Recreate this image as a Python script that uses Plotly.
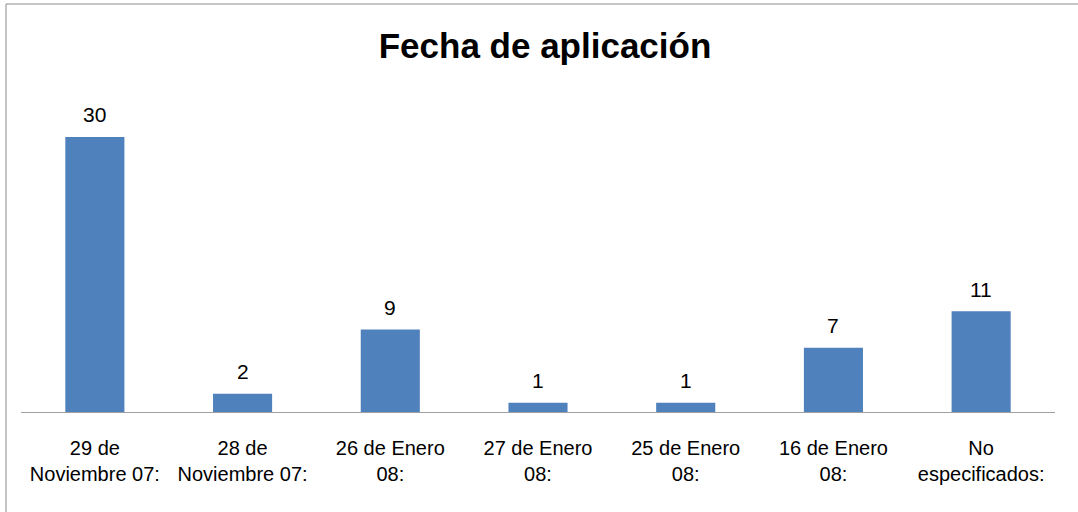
import plotly.graph_objects as go

categories = ["29 de<br>Noviembre 07:", "28 de<br>Noviembre 07:", "26 de Enero<br>08:",
              "27 de Enero<br>08:", "25 de Enero<br>08:", "16 de Enero<br>08:",
              "No<br>especificados:"]
values = [30, 2, 9, 1, 1, 7, 11]
title_text = "Fecha de aplicación"

W, H = 1078, 512
L, R, T, B = 21, 23, 100, 100
pw, ph = W - L - R, H - T - B
ymax = 34.03

fig = go.Figure()
fig.add_trace(go.Bar(x=categories, y=values, marker=dict(color="#4F81BD", line=dict(width=0)),
                     hoverinfo="skip"))

for c, v in zip(categories, values):
    fig.add_annotation(x=c, y=v, text=str(v), showarrow=False, yanchor="middle", yshift=22,
                       font=dict(family="Arial, Liberation Sans", size=21, color="#000000"))

fig.add_shape(type="rect", xref="paper", yref="paper",
              x0=(6 - L) / pw, x1=(W + 10 - L) / pw,
              y0=-(H + 10 - (T + ph)) / ph, y1=(T + ph - 4) / ph,
              line=dict(color="#8C8C8C", width=1), fillcolor="rgba(0,0,0,0)", layer="below")

fig.update_layout(
    width=W, height=H,
    margin=dict(l=L, r=R, t=T, b=B),
    paper_bgcolor="white", plot_bgcolor="white",
    bargap=0.6,
    showlegend=False,
    title=dict(text="<b>" + title_text + "</b>", x=545 / W, xanchor="center",
               y=1 - 46 / H, yanchor="middle", yref="container",
               font=dict(family="Arial, Liberation Sans", size=35, color="#000000")),
    xaxis=dict(showline=True, linecolor="#A0A0A0", linewidth=1, showgrid=False, ticks="",
               tickfont=dict(family="Arial, Liberation Sans", size=20, color="#000000"),
               ticklabelstandoff=18, fixedrange=True),
    yaxis=dict(visible=False, range=[0, ymax], showgrid=False, zeroline=False, fixedrange=True),
)

fig.write_html("out.html", config={"displayModeBar": False},
               post_script="document.body.style.margin='0';document.body.style.overflow='hidden';")
